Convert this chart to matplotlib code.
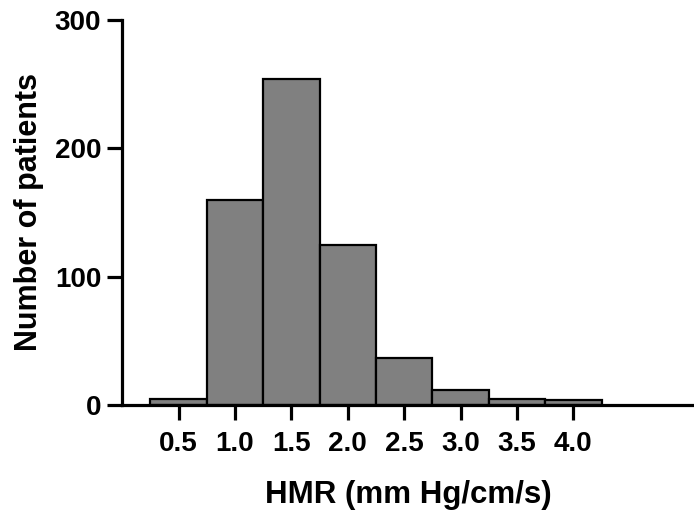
import matplotlib.pyplot as plt

plt.rcParams['font.family'] = ['Liberation Sans', 'DejaVu Sans']
plt.rcParams['font.weight'] = 'bold'

# bin centres and counts
hmr = [0.5, 1.0, 1.5, 2.0, 2.5, 3.0, 3.5, 4.0]
patients = [5, 160, 254, 125, 37, 12, 5, 4]
tick_labels = ['0.5', '1.0', '1.5', '2.0', '2.5', '3.0', '3.5', '4.0']

fig = plt.figure(figsize=(6.94, 5.15), dpi=100)
ax = fig.add_axes([0.176, 0.2136, 0.824, 0.7476])

ax.bar(hmr, patients, width=0.5, color='#808080', edgecolor='black', linewidth=1.6)

ax.set_xlim(0, 5.07)
ax.set_ylim(0, 300)
ax.set_xticks(hmr)
ax.set_xticklabels(tick_labels)
ax.set_yticks([0, 100, 200, 300])

for s in ['top', 'right']:
    ax.spines[s].set_visible(False)
for s in ['left', 'bottom']:
    ax.spines[s].set_linewidth(2.3)

ax.tick_params(axis='both', width=2.3, length=11)
ax.tick_params(axis='x', pad=8)
ax.tick_params(axis='y', pad=4)
for lab in ax.get_xticklabels() + ax.get_yticklabels():
    lab.set_fontweight('bold')
    lab.set_fontsize(20)

ax.set_xlabel('HMR (mm Hg/cm/s)', fontsize=22.5, fontweight='bold', labelpad=16)
ax.set_ylabel('Number of patients', fontsize=22, fontweight='bold', labelpad=8)

fig.savefig('out.png', dpi=100)
